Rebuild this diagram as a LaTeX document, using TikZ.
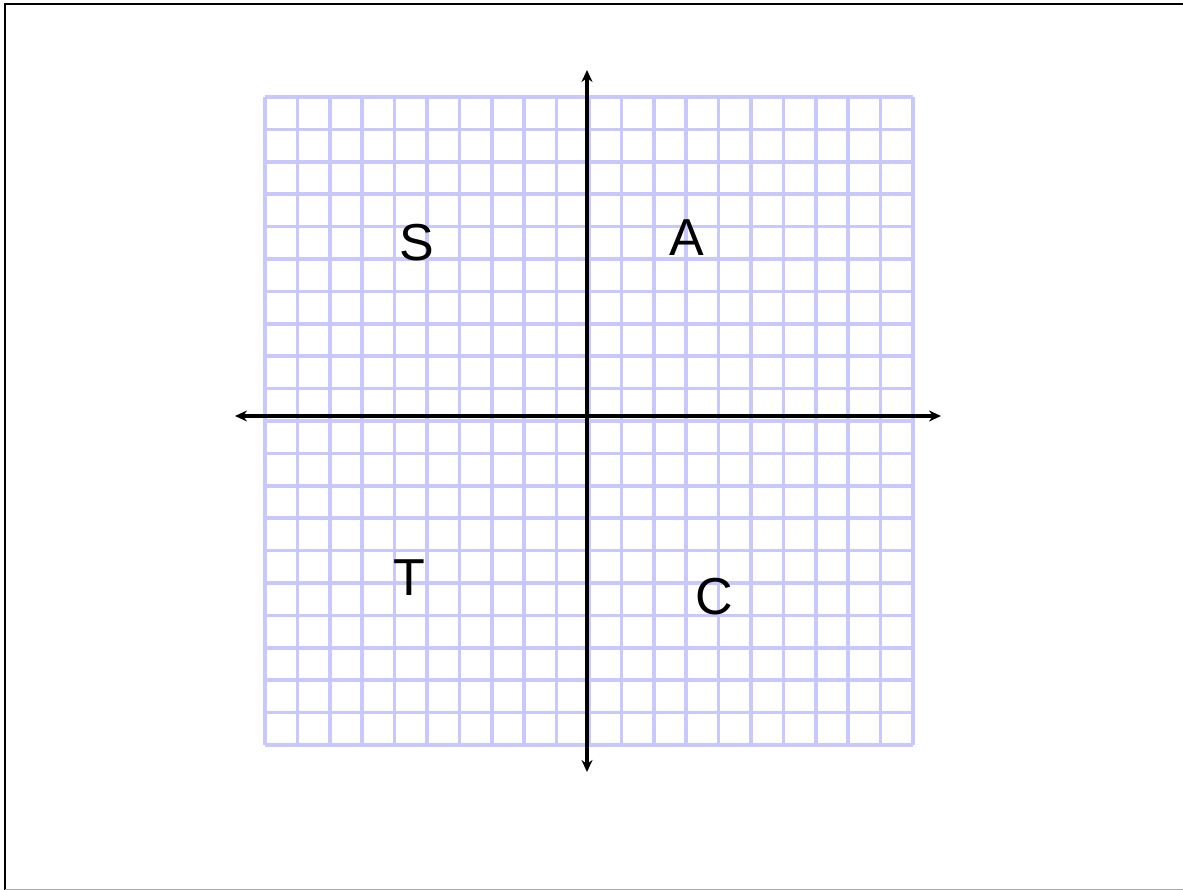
\documentclass[tikz,border=0pt]{standalone}
\usepackage{fontspec}
\setmainfont{Liberation Sans}
\usetikzlibrary{arrows.meta}
\definecolor{gridblue}{RGB}{200,200,255}
\definecolor{framegray}{RGB}{170,170,170}
\begin{document}
\begin{tikzpicture}[x=1pt,y=-1pt,
  gridline/.style={draw=gridblue, line width=3.5pt},
  axis/.style={line width=4pt, {Stealth[length=12pt,width=11pt]}-{Stealth[length=12pt,width=11pt]}},
  lbl/.style={font=\fontsize{52}{62}\selectfont, inner sep=0pt}]
\useasboundingbox (0,0) rectangle (1183,890);
% frame
\draw[black, line width=2pt] (5,890) -- (5,4) -- (1183,4);
\draw[framegray, line width=1pt] (5,889) -- (1183,889);
% grid
\foreach \i in {0,...,20}{
  \draw[gridline] ({265+32.4*\i},97) -- ({265+32.4*\i},745);
  \draw[gridline] (265,{97+32.4*\i}) -- (913,{97+32.4*\i});
}
% axes
\coordinate (top) at (587,70);
\coordinate (bottom) at (587,772);
\coordinate (left) at (235,416);
\coordinate (right) at (941,416);
\draw[axis] (left) -- (right);
\draw[axis] (bottom) -- (top);
% labels
\node[lbl] (S) at (417,243) {S};
\node[lbl] (A) at (687,238) {A};
\node[lbl] (T) at (409,578) {T};
\node[lbl] (C) at (714,597) {C};
\end{tikzpicture}
\end{document}
